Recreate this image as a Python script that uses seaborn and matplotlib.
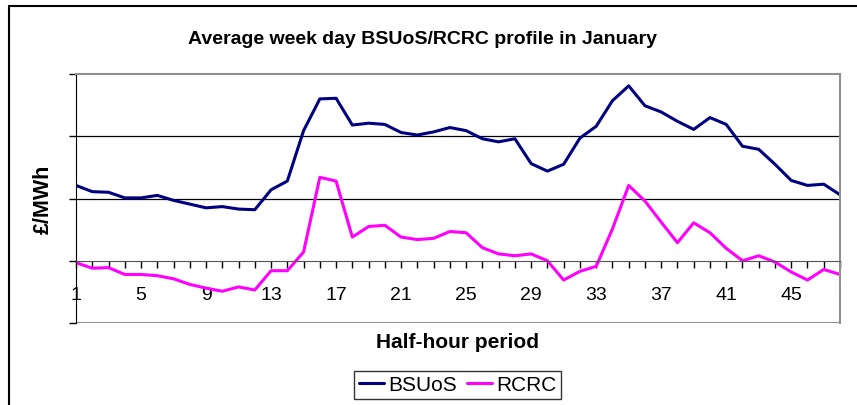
import matplotlib
matplotlib.use('Agg')
import matplotlib.pyplot as plt
from matplotlib.lines import Line2D
import pandas as pd
import seaborn as sns

# half-hour periods 1..48 (arbitrary £/MWh units - axis has no labels)
periods = list(range(1, 49))
bsuos = [1.21, 1.11, 1.10, 1.01, 1.01, 1.05, 0.97, 0.91, 0.85, 0.87, 0.83, 0.82,
         1.14, 1.28, 2.09, 2.60, 2.61, 2.18, 2.21, 2.19, 2.06, 2.02, 2.07, 2.14,
         2.09, 1.96, 1.91, 1.96, 1.56, 1.44, 1.55, 1.97, 2.16, 2.57, 2.81, 2.49,
         2.39, 2.24, 2.11, 2.30, 2.19, 1.84, 1.79, 1.55, 1.29, 1.21, 1.23, 1.06]
rcrc = [-0.03, -0.12, -0.11, -0.22, -0.22, -0.24, -0.29, -0.38, -0.44, -0.49, -0.42, -0.47,
        -0.16, -0.16, 0.14, 1.34, 1.28, 0.38, 0.55, 0.57, 0.38, 0.34, 0.36, 0.47,
        0.45, 0.21, 0.11, 0.08, 0.11, 0.00, -0.31, -0.17, -0.09, 0.51, 1.21, 0.96,
        0.62, 0.29, 0.61, 0.45, 0.20, 0.00, 0.08, -0.02, -0.18, -0.31, -0.14, -0.22]
tick_labels = [str(p) if (p - 1) % 4 == 0 else '' for p in periods]

df = pd.DataFrame({
    'period': periods * 2,
    'value': bsuos + rcrc,
    'series': ['BSUoS'] * len(periods) + ['RCRC'] * len(periods),
})

sns.set_style('white')
plt.rcParams['font.family'] = ['Liberation Sans', 'DejaVu Sans']
plt.rcParams['text.color'] = 'black'
plt.rcParams['xtick.color'] = 'black'
plt.rcParams['ytick.color'] = 'black'

fig = plt.figure(figsize=(8.57, 4.06), dpi=100)
ax = fig.add_axes([76 / 857, 82 / 406, 764 / 857, 249 / 406])

sns.lineplot(data=df, x='period', y='value', hue='series',
             palette={'BSUoS': '#000080', 'RCRC': '#FF00FF'},
             linewidth=2.2, ax=ax, legend=False)

ax.set_xlim(1, 48)
ax.set_ylim(-1, 3)
for yv in (1, 2):
    ax.axhline(yv, color='black', lw=0.9, zorder=0)
ax.axhline(-1, color='#909090', lw=1.5, zorder=0)

ax.set_xticks(periods)
ax.set_xticklabels(tick_labels)
ax.set_yticks([-1, 0, 1, 2, 3])
ax.set_yticklabels([])
ax.tick_params(axis='x', direction='out', length=5, width=1, color='black',
               labelsize=14, labelcolor='black', pad=13, bottom=True)
ax.tick_params(axis='y', direction='out', length=5, width=1, color='black', left=True)
ax.set_xlabel('')
ax.set_ylabel('')

ax.spines['bottom'].set_position(('data', 0))
ax.spines['bottom'].set_color('#555555')
ax.spines['left'].set_color('black')
for s in ('top', 'right'):
    ax.spines[s].set_color('#909090')
    ax.spines[s].set_linewidth(1.5)

fig.text(423 / 857, 1 - 40 / 406, 'Average week day BSUoS/RCRC profile in January',
         ha='center', va='center', fontsize=14, fontweight='bold')
fig.text(457.5 / 857, 1 - 343 / 406, 'Half-hour period',
         ha='center', va='center', fontsize=15, fontweight='bold')
fig.text(43 / 857, 1 - 199 / 406, '£/MWh', rotation=90,
         ha='center', va='center', fontsize=15.5, fontweight='bold')

handles = [Line2D([], [], color='#000080', lw=2.2), Line2D([], [], color='#FF00FF', lw=2.2)]
leg = fig.legend(handles, ['BSUoS', 'RCRC'], loc='center', ncol=2,
                 bbox_to_anchor=(457.5 / 857, 1 - 386 / 406), fontsize=15,
                 frameon=True, fancybox=False, handlelength=1.2, handletextpad=0.2,
                 columnspacing=0.5, borderpad=0.2, borderaxespad=0)
leg.get_frame().set_edgecolor('black')
leg.get_frame().set_linewidth(1)

# outer chart border (top and left visible in the crop)
fig.add_artist(Line2D([9 / 857, 1], [1 - 7 / 406, 1 - 7 / 406], color='black', lw=1.5))
fig.add_artist(Line2D([9 / 857, 9 / 857], [0, 1 - 7 / 406], color='black', lw=1.5))

fig.savefig('out.png', dpi=100)
